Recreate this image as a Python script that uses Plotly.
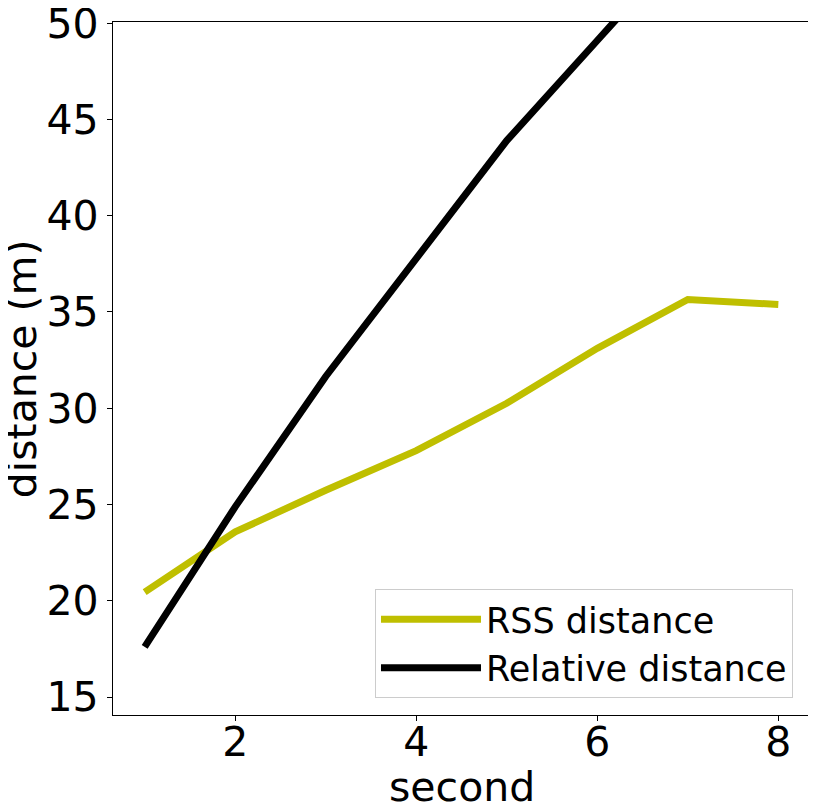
import plotly.graph_objects as go

# --- Dados ---
seconds = [1, 2, 3, 4, 5, 6, 7, 8]
rss_distance = [20.45, 23.58, 25.74, 27.8, 30.26, 33.11, 35.65, 35.39]
relative_distance = [17.61, 24.88, 31.65, 37.8, 43.9, 49.1, 54.4, 59.5]

x_ticks = [2, 4, 6, 8]
y_ticks = [15, 20, 25, 30, 35, 40, 45, 50]

font_family = 'DejaVu Sans'

fig = go.Figure()

fig.add_trace(go.Scatter(x=seconds, y=rss_distance, mode='lines', name='RSS distance',
                         line=dict(color='#bfbf00', width=7)))
fig.add_trace(go.Scatter(x=seconds, y=relative_distance, mode='lines', name='Relative distance',
                         line=dict(color='black', width=7)))

axis_style = dict(
    automargin=False,
    showgrid=False,
    zeroline=False,
    showline=True,
    linecolor='black',
    linewidth=1.2,
    mirror=True,
    ticks='outside',
    ticklen=5,
    tickwidth=1.2,
    tickcolor='black',
    ticklabeloverflow='allow',
    tickfont=dict(family=font_family, size=41, color='black'),
)

# A página tem margem de 8 px no body, por isso a figura é 8 px menor
fig.update_layout(
    width=808,
    height=797,
    paper_bgcolor='white',
    plot_bgcolor='white',
    margin=dict(l=105, r=6, t=14, b=90),
    showlegend=True,
    legend=dict(
        x=0.9756, y=0.0245, xanchor='right', yanchor='bottom',
        bgcolor='rgba(255,255,255,0.8)',
        bordercolor='#cccccc', borderwidth=1,
        font=dict(family=font_family, size=35, color='black'),
        itemwidth=100,
    ),
    xaxis=dict(axis_style, range=[0.65, 8.35], tickvals=x_ticks, ticklabelstandoff=-14),
    yaxis=dict(axis_style, range=[14.07, 50.06], tickvals=y_ticks),
)

# Títulos dos eixos como anotações para posicionamento exato
fig.add_annotation(text='second', xref='paper', yref='paper', x=0.5, y=-0.104,
                   xanchor='center', yanchor='middle', showarrow=False,
                   font=dict(family=font_family, size=41, color='black'))
fig.add_annotation(text='distance (m)', xref='paper', yref='paper', x=-0.131, y=0.5,
                   xanchor='center', yanchor='middle', showarrow=False, textangle=-90,
                   font=dict(family=font_family, size=41, color='black'))

fig.write_html("out.html")
